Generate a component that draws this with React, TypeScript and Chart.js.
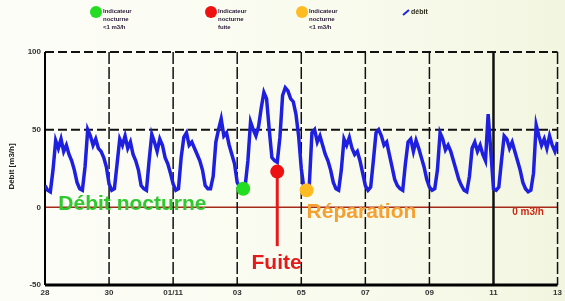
import React, { useEffect, useRef } from "react";
import { Chart, registerables } from "chart.js";

Chart.register(...registerables);

// ---- data ----
const HOURS_PER_POINT = 2;
const X_MAX_HOURS = 384;
const X_STEP_HOURS = 48;
const dateLabels = ["28", "30", "01/11", "03", "05", "07", "09", "11", "13"];
const yTickValues = [-50, 0, 50, 100];

// flow in m3/h, one value every 2 hours (12 per day)
const flowValues = [
  14, 11, 10, 24, 43, 38, 44, 36, 40, 34, 30, 24,
  16, 12, 11, 26, 50, 46, 40, 44, 38, 36, 32, 26,
  15, 11, 12, 28, 44, 40, 46, 38, 42, 34, 30, 24,
  14, 12, 11, 30, 47, 42, 36, 44, 40, 32, 28, 22,
  15, 11, 12, 32, 45, 48, 40, 42, 38, 34, 30, 24,
  14, 12, 12, 20, 42, 50, 57, 46, 48, 40, 34, 28,
  16, 13, 12, 14, 30, 55, 50, 46, 52, 64, 74, 70,
  50, 32, 30, 29, 45, 72, 77, 75, 70, 68, 60, 46,
  25, 12, 11, 14, 48, 50, 42, 46, 40, 34, 30, 24,
  16, 12, 11, 24, 44, 40, 45, 38, 34, 36, 30, 22,
  14, 11, 13, 30, 48, 50, 46, 40, 42, 34, 26, 18,
  14, 12, 11, 28, 42, 44, 36, 43, 38, 32, 26, 18,
  13, 11, 12, 24, 48, 44, 37, 40, 36, 30, 24, 18,
  14, 11, 10, 20, 38, 42, 36, 40, 34, 30, 60, 36,
  12, 11, 13, 30, 46, 44, 38, 42, 36, 30, 24, 16,
  12, 10, 11, 22, 53, 46, 40, 44, 38, 46, 40, 36,
  42,
];

const markerHours = [148.5, 174, 196];
const markerValues = [12, 23, 11];
const markerColors = ["#22dd22", "#ee1111", "#ffbb22"];

const legendTexts = [
  ["Indicateur", "nocturne", "<1 m3/h"],
  ["Indicateur", "nocturne", "fuite"],
  ["Indicateur", "nocturne", "<1 m3/h"],
];
const lineLegendText = "débit";

const annotationTexts = ["Débit nocturne", "Fuite", "Réparation", "0 m3/h"];
const annotationHours = [10, 173.5, 196, 350];
const annotationValues = [2, -36, -3, -3];
const annotationColors = ["#2fc82f", "#e51b1b", "#f5a030", "#cc2a14"];
const yTitle = "Débit [m3/h]";

const FONT = "'Liberation Sans', Arial, sans-serif";

const overlayPlugin = {
  id: "overlay",
  beforeDatasetsDraw(chart: any) {
    const { ctx, chartArea, scales } = chart;
    const xs = scales.x;
    const ys = scales.y;
    ctx.save();
    for (const v of yTickValues) {
      const y = ys.getPixelForValue(v);
      if (v === -50) continue;
      ctx.beginPath();
      if (v === 0) {
        ctx.setLineDash([]);
        ctx.strokeStyle = "#a52a1a";
        ctx.lineWidth = 1.5;
      } else {
        ctx.setLineDash([9, 4]);
        ctx.strokeStyle = "#111";
        ctx.lineWidth = 2;
      }
      ctx.moveTo(chartArea.left, y);
      ctx.lineTo(chartArea.right, y);
      ctx.stroke();
    }
    for (let h = X_STEP_HOURS; h <= X_MAX_HOURS; h += X_STEP_HOURS) {
      const x = xs.getPixelForValue(h);
      ctx.beginPath();
      if (h === 336) {
        ctx.setLineDash([]);
        ctx.lineWidth = 2.5;
      } else {
        ctx.setLineDash([12, 3]);
        ctx.lineWidth = 1.5;
      }
      ctx.strokeStyle = "#111";
      ctx.moveTo(x, chartArea.top);
      ctx.lineTo(x, chartArea.bottom);
      ctx.stroke();
    }
    ctx.setLineDash([]);
    ctx.strokeStyle = "#000";
    ctx.lineWidth = 2;
    ctx.beginPath();
    ctx.moveTo(chartArea.left, chartArea.top);
    ctx.lineTo(chartArea.left, chartArea.bottom);
    ctx.stroke();
    ctx.lineWidth = 3;
    ctx.beginPath();
    ctx.moveTo(chartArea.left, chartArea.bottom);
    ctx.lineTo(chartArea.right, chartArea.bottom);
    ctx.stroke();

    const ax = xs.getPixelForValue(markerHours[1]);
    ctx.strokeStyle = "#e51b1b";
    ctx.lineWidth = 3;
    ctx.beginPath();
    ctx.moveTo(ax, ys.getPixelForValue(markerValues[1]));
    ctx.lineTo(ax, ys.getPixelForValue(-25));
    ctx.stroke();
    ctx.restore();
  },
  afterDatasetsDraw(chart: any) {
    const { ctx, chartArea, scales } = chart;
    const xs = scales.x;
    const ys = scales.y;
    ctx.save();
    annotationTexts.forEach((t, i) => {
      const small = i === 3;
      ctx.font = `bold ${small ? 10 : 21}px ${FONT}`;
      ctx.fillStyle = annotationColors[i];
      ctx.textBaseline = "middle";
      ctx.textAlign = i === 1 ? "center" : "left";
      ctx.fillText(t, xs.getPixelForValue(annotationHours[i]), ys.getPixelForValue(annotationValues[i]));
    });
    ctx.save();
    ctx.translate(12, (chartArea.top + chartArea.bottom) / 2 - 2);
    ctx.rotate(-Math.PI / 2);
    ctx.font = `bold 8px ${FONT}`;
    ctx.fillStyle = "#222";
    ctx.textAlign = "center";
    ctx.textBaseline = "middle";
    ctx.fillText(yTitle, 0, 0);
    ctx.restore();

    const legendX = [96, 211, 302];
    legendTexts.forEach((lines, i) => {
      ctx.beginPath();
      ctx.fillStyle = markerColors[i];
      ctx.arc(legendX[i], 12, 6, 0, Math.PI * 2);
      ctx.fill();
      ctx.font = `bold 6px ${FONT}`;
      ctx.fillStyle = "#2a1a3a";
      ctx.textAlign = "left";
      ctx.textBaseline = "middle";
      lines.forEach((l, j) => ctx.fillText(l, legendX[i] + 7, 11 + j * 8));
    });
    ctx.strokeStyle = "#2222dd";
    ctx.lineWidth = 2;
    ctx.beginPath();
    ctx.moveTo(403, 15);
    ctx.lineTo(409, 10);
    ctx.stroke();
    ctx.font = `bold 7px ${FONT}`;
    ctx.fillStyle = "#2a2a1a";
    ctx.textAlign = "left";
    ctx.textBaseline = "middle";
    ctx.fillText(lineLegendText, 411, 12);
    ctx.restore();
  },
};

export default function App() {
  const canvasRef = useRef<HTMLCanvasElement | null>(null);

  useEffect(() => {
    document.body.style.margin = "0";
    const canvas = canvasRef.current;
    if (!canvas) return;
    const chart = new Chart(canvas, {
      type: "line",
      data: {
        datasets: [
          {
            type: "line",
            data: flowValues.map((v, i) => ({ x: i * HOURS_PER_POINT, y: v })),
            borderColor: "#1f1fe0",
            borderWidth: 3.5,
            pointRadius: 0,
            tension: 0,
            order: 2,
          },
          {
            type: "scatter",
            data: markerHours.map((h, i) => ({ x: h, y: markerValues[i] })),
            pointRadius: 7,
            pointBackgroundColor: markerColors,
            pointBorderWidth: 0,
            borderWidth: 0,
            showLine: false,
            order: 1,
          } as any,
        ],
      },
      options: {
        animation: false,
        responsive: false,
        maintainAspectRatio: false,
        layout: { padding: { top: 52, right: 5, left: 0, bottom: 0 } },
        plugins: { legend: { display: false }, tooltip: { enabled: false } },
        scales: {
          x: {
            type: "linear",
            min: 0,
            max: X_MAX_HOURS,
            grid: { display: false, drawTicks: false },
            border: { display: false },
            afterFit: (s: any) => {
              s.height = 16;
            },
            afterBuildTicks: (s: any) => {
              s.ticks = dateLabels.map((_, i) => ({ value: i * X_STEP_HOURS }));
            },
            ticks: {
              autoSkip: false,
              maxRotation: 0,
              padding: 3,
              color: "#333",
              font: { size: 8, weight: "bold", family: FONT },
              callback: (v: any) => dateLabels[Math.round(Number(v) / X_STEP_HOURS)] ?? "",
            },
          },
          y: {
            min: -50,
            max: 100,
            grid: { display: false, drawTicks: false },
            border: { display: false },
            afterFit: (s: any) => {
              s.width = 45;
            },
            afterBuildTicks: (s: any) => {
              s.ticks = yTickValues.map((v) => ({ value: v }));
            },
            ticks: {
              padding: 4,
              color: "#333",
              font: { size: 8, weight: "bold", family: FONT },
            },
          },
        },
      },
      plugins: [overlayPlugin],
    });
    return () => chart.destroy();
  }, []);

  return (
    <div
      style={{
        width: 565,
        height: 301,
        background: "linear-gradient(90deg, #fdfdf8 0%, #f9fbee 60%, #f2f6e0 100%)",
      }}
    >
      <canvas ref={canvasRef} width={565} height={301} style={{ display: "block" }} />
    </div>
  );
}
